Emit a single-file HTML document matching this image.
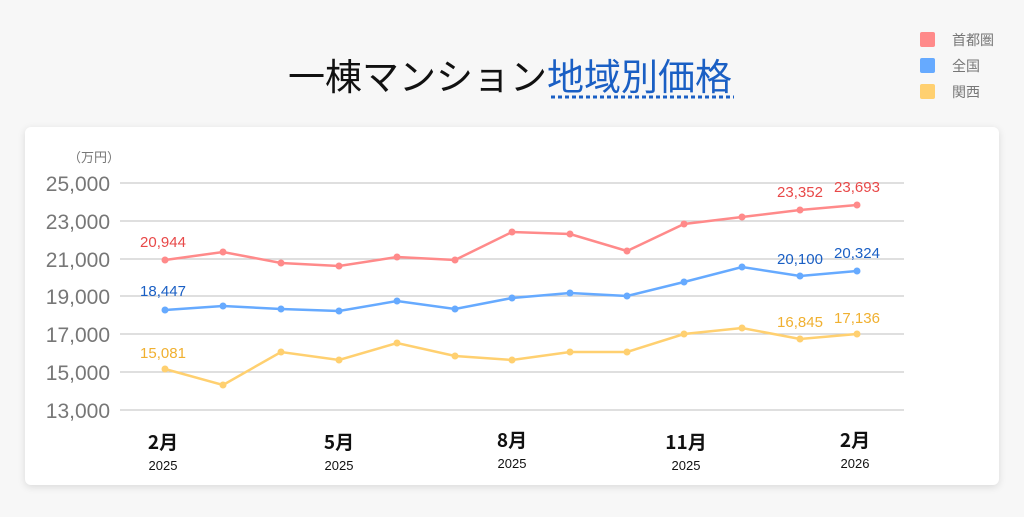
<!DOCTYPE html>
<html><head><meta charset="utf-8"><style>
html,body{margin:0;padding:0;background:#f7f7f7;}
body{width:1024px;height:517px;overflow:hidden;position:relative;font-family:"Liberation Sans","Noto Sans CJK JP",sans-serif;}
.card{position:absolute;left:25px;top:127px;width:974px;height:358px;background:#fff;border-radius:6px;box-shadow:0 2px 8px rgba(0,0,0,0.12);}
svg{position:absolute;left:0;top:0;}
</style></head><body>
<div class="card"></div>
<svg width="1024" height="517" xmlns="http://www.w3.org/2000/svg" font-family="Liberation Sans, Noto Sans CJK JP, sans-serif">
<text x="288" y="90" font-size="37" fill="#111" font-family="Noto Sans CJK JP, sans-serif">一棟マンション<tspan fill="#1a5fc4">地域別価格</tspan></text>
<line x1="551" y1="97" x2="734" y2="97" stroke="#1a5fc4" stroke-width="3" stroke-dasharray="4,3"/>
<rect x="920" y="32" width="15" height="15" rx="2" fill="#ff8a8a"/>
<text x="952" y="45" font-size="14" fill="#777" font-family="Noto Sans CJK JP, sans-serif">首都圏</text>
<rect x="920" y="58" width="15" height="15" rx="2" fill="#66aaff"/>
<text x="952" y="71" font-size="14" fill="#777" font-family="Noto Sans CJK JP, sans-serif">全国</text>
<rect x="920" y="84" width="15" height="15" rx="2" fill="#ffd070"/>
<text x="952" y="97" font-size="14" fill="#777" font-family="Noto Sans CJK JP, sans-serif">関西</text>
<text x="68" y="162" font-size="13" fill="#777" font-family="Noto Sans CJK JP, sans-serif">（万円）</text>
<g stroke="#ccc" stroke-width="1.2">
<line x1="120" y1="183" x2="904" y2="183"/><line x1="120" y1="221" x2="904" y2="221"/>
<line x1="120" y1="259" x2="904" y2="259"/><line x1="120" y1="296" x2="904" y2="296"/>
<line x1="120" y1="334" x2="904" y2="334"/><line x1="120" y1="372" x2="904" y2="372"/>
<line x1="120" y1="410" x2="904" y2="410"/></g>
<g font-size="21" fill="#777" text-anchor="end">
<text x="110" y="191">25,000</text><text x="110" y="229">23,000</text><text x="110" y="267">21,000</text>
<text x="110" y="304">19,000</text><text x="110" y="342">17,000</text><text x="110" y="380">15,000</text><text x="110" y="418">13,000</text></g>
<g fill="none" stroke-width="2.5">
<polyline stroke="#ff8a8a" points="165,260 223,252 281,263 339,266 397,257 455,260 512,232 570,234 627,251 684,224 742,217 800,210 857,205"/>
<polyline stroke="#66aaff" points="165,310 223,306 281,309 339,311 397,301 455,309 512,298 570,293 627,296 684,282 742,267 800,276 857,271"/>
<polyline stroke="#ffd070" points="165,369 223,385 281,352 339,360 397,343 455,356 512,360 570,352 627,352 684,334 742,328 800,339 857,334"/>
</g>
<g fill="#ff8a8a"><circle cx="165" cy="260" r="3.5"/><circle cx="223" cy="252" r="3.5"/><circle cx="281" cy="263" r="3.5"/><circle cx="339" cy="266" r="3.5"/><circle cx="397" cy="257" r="3.5"/><circle cx="455" cy="260" r="3.5"/><circle cx="512" cy="232" r="3.5"/><circle cx="570" cy="234" r="3.5"/><circle cx="627" cy="251" r="3.5"/><circle cx="684" cy="224" r="3.5"/><circle cx="742" cy="217" r="3.5"/><circle cx="800" cy="210" r="3.5"/><circle cx="857" cy="205" r="3.5"/></g>
<g fill="#66aaff"><circle cx="165" cy="310" r="3.5"/><circle cx="223" cy="306" r="3.5"/><circle cx="281" cy="309" r="3.5"/><circle cx="339" cy="311" r="3.5"/><circle cx="397" cy="301" r="3.5"/><circle cx="455" cy="309" r="3.5"/><circle cx="512" cy="298" r="3.5"/><circle cx="570" cy="293" r="3.5"/><circle cx="627" cy="296" r="3.5"/><circle cx="684" cy="282" r="3.5"/><circle cx="742" cy="267" r="3.5"/><circle cx="800" cy="276" r="3.5"/><circle cx="857" cy="271" r="3.5"/></g>
<g fill="#ffd070"><circle cx="165" cy="369" r="3.5"/><circle cx="223" cy="385" r="3.5"/><circle cx="281" cy="352" r="3.5"/><circle cx="339" cy="360" r="3.5"/><circle cx="397" cy="343" r="3.5"/><circle cx="455" cy="356" r="3.5"/><circle cx="512" cy="360" r="3.5"/><circle cx="570" cy="352" r="3.5"/><circle cx="627" cy="352" r="3.5"/><circle cx="684" cy="334" r="3.5"/><circle cx="742" cy="328" r="3.5"/><circle cx="800" cy="339" r="3.5"/><circle cx="857" cy="334" r="3.5"/></g>
<g font-size="15" text-anchor="middle">
<text x="163" y="247" fill="#e84848">20,944</text><text x="800" y="197" fill="#e84848">23,352</text><text x="857" y="192" fill="#e84848">23,693</text>
<text x="163" y="296" fill="#1a5fc4">18,447</text><text x="800" y="264" fill="#1a5fc4">20,100</text><text x="857" y="258" fill="#1a5fc4">20,324</text>
<text x="163" y="358" fill="#f0b030">15,081</text><text x="800" y="327" fill="#f0b030">16,845</text><text x="857" y="323" fill="#f0b030">17,136</text>
</g>
<g text-anchor="middle" fill="#111">
<g font-size="19" font-weight="bold" font-family="Noto Sans CJK JP, sans-serif">
<text x="163" y="449">2月</text><text x="339" y="449">5月</text><text x="512" y="447">8月</text><text x="686" y="449">11月</text><text x="855" y="447">2月</text></g>
<g font-size="13"><text x="163" y="470">2025</text><text x="339" y="470">2025</text><text x="512" y="468">2025</text><text x="686" y="470">2025</text><text x="855" y="468">2026</text></g>
</g>
</svg>
</body></html>
